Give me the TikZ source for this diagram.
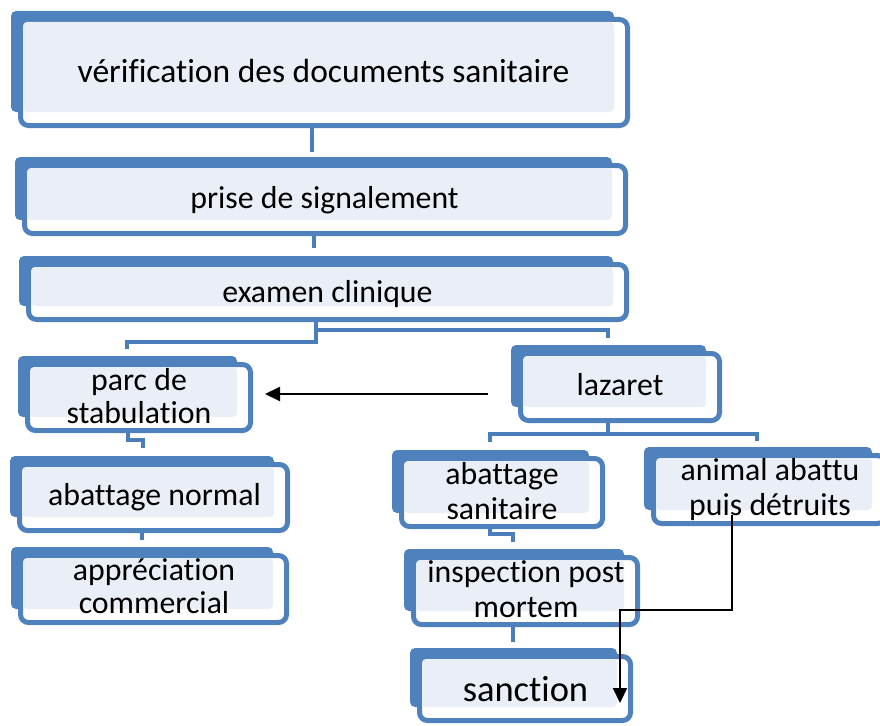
\documentclass[tikz,border=0pt]{standalone}
\usepackage{fontspec}
\setmainfont{Carlito}[Ligatures={NoCommon}]
\usetikzlibrary{arrows.meta,calc}
\definecolor{bluec}{HTML}{4F81BD}
\definecolor{lightc}{HTML}{EAEFF7}
\definecolor{connc}{HTML}{4A7EBB}
\pgfdeclarelayer{bg}
\pgfsetlayers{bg,main}
\tikzset{
  frontbox/.style={draw=bluec, line width=5pt, fill=white, rounded corners=8pt, inner sep=0pt, outer sep=2.5pt},
  backbox/.style={fill=bluec, rounded corners=5pt},
  lightbox/.style={fill=lightc, rounded corners=4pt},
  lbl/.style={font=\fontsize{31.8}{34}\selectfont, align=center, anchor=base, inner sep=0pt},
  lblr/.style={lbl, font=\fontsize{31.8}{35}\selectfont},
  lbll/.style={lbl, font=\fontsize{31.8}{33}\selectfont},
  conn/.style={draw=connc, line width=4pt},
  arr/.style={draw=black, line width=2pt, -{Triangle[length=15pt,width=14pt]}},
}
\newcommand{\smbox}[5]{%
  \fill[backbox] ({#2-7},{#3-6}) rectangle ({#4-16},{#5-16});
  \node[frontbox, minimum width={#4-#2-5}, minimum height={#5-#3-5}] (#1) at ({(#2+#4)/2},{(#3+#5)/2}) {};
  \fill[lightbox] ({#2+5},{#3+5}) rectangle ({#4-16},{#5-16});
}
\begin{document}
\begin{tikzpicture}[x=1pt,y=-1pt]
\useasboundingbox (0,0) rectangle (880,725);
\begin{scope}
\clip (0,0) rectangle (880,725);
\smbox{verif}{18}{17}{630}{128}
\smbox{prise}{22}{163}{628}{236}
\smbox{examen}{26}{262}{629}{322}
\smbox{parc}{25}{362}{253}{433}
\smbox{abnorm}{17}{462}{290}{533}
\smbox{apprec}{18}{553}{289}{625}
\smbox{lazaret}{518}{351}{722}{423}
\smbox{absanit}{399}{456}{605}{529}
\smbox{animal}{651}{453}{888}{526}
\smbox{inspect}{411}{555}{640}{627}
\smbox{sanction}{417}{654}{633}{723}
\end{scope}

\node[lbl, font=\fontsize{33.5}{36}\selectfont] (verif-t) at (323.5,82) {vérification des documents sanitaire};
\node[lbl] (prise-t) at (324.5,208) {prise de signalement};
\node[lbl] (examen-t) at (327.5,302) {examen clinique};
\node[lbll] (parc-t) at (139,423) {parc de\\stabulation};
\node[lbl] (abnorm-t) at (154.5,505) {abattage normal};
\node[lbll] (apprec-t) at (154,613) {appréciation\\commercial};
\node[lbl] (lazaret-t) at (620,395) {lazaret};
\node[lblr] (absanit-t) at (502,519) {abattage\\sanitaire};
\node[lblr] (animal-t) at (770,515) {animal abattu\\puis détruits};
\node[lblr] (inspect-t) at (526,617) {inspection post\\mortem};
\node[lbl, font=\fontsize{36.5}{40}\selectfont] (sanction-t) at (525.5,701) {sanction};

\begin{pgfonlayer}{bg}
\draw[conn] (verif.south -| 312,0) -- ($(prise.north -| 312,0)+(0,-11)$);
\draw[conn] (prise.south -| 314,0) -- ($(examen.north -| 314,0)+(0,-14)$);
\draw[conn] (examen.south -| 316,0) -- (316,342) -- (127,342) -- ($(parc.north -| 127,0)+(0,-13)$);
\draw[conn] (316,330) -- (608,330) -- ($(lazaret.north -| 608,0)+(0,-13)$);
\draw[conn] (parc.south -| 128,0) -- (128,440) -- (143,440) -- ($(abnorm.north -| 143,0)+(0,-14)$);
\draw[conn] (abnorm.south -| 142,0) -- ($(apprec.north -| 142,0)+(0,-13)$);
\draw[conn] (lazaret.south -| 608,0) -- (608,434) -- (490,434) -- ($(absanit.north -| 490,0)+(0,-14)$);
\draw[conn] (608,434) -- (757,434) -- ($(animal.north -| 757,0)+(0,-12)$);
\draw[conn] (absanit.south -| 490,0) -- (490,534) -- (513,534) -- ($(inspect.north -| 513,0)+(0,-13)$);
\draw[conn] (inspect.south -| 513,0) -- ($(sanction.north -| 513,0)+(0,-12)$);
\end{pgfonlayer}

\coordinate (a1s) at (488,394);
\draw[arr] (a1s) -- ($(parc.east |- a1s)+(12,0)$);
\coordinate (a2s) at (732,515);
\draw[arr] (a2s) -- (732,610) -- (620,610) -- ($(sanction.south -| 620,0)+(0,-20)$);
\end{tikzpicture}
\end{document}
